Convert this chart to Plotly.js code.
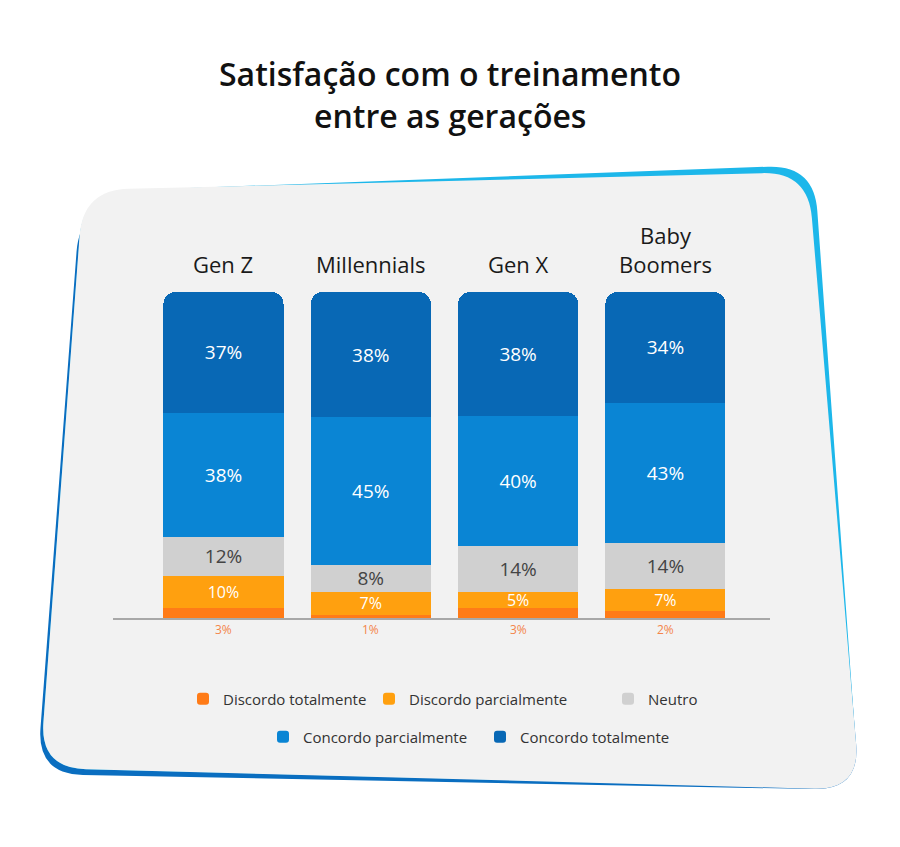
<!DOCTYPE html>
<html>
<head>
<meta charset="utf-8">
<script src="https://cdn.plot.ly/plotly-3.0.1.min.js"></script>
<style>html,body{margin:0;padding:0;background:#fff;}#chart{width:900px;height:847px;}</style>
</head>
<body>
<div id="chart"></div>
<script>
const categories = ['Gen Z', 'Millennials', 'Gen X', 'Baby Boomers'];
const categoryLabels = ['Gen Z', 'Millennials', 'Gen X', 'Baby<br>Boomers'];
const discordoTotalmente = [3, 1, 3, 2];
const discordoParcialmente = [10, 7, 5, 7];
const neutro = [12, 8, 14, 14];
const concordoParcialmente = [38, 45, 40, 43];
const concordoTotalmente = [37, 38, 38, 34];
const seriesNames = ['Discordo totalmente', 'Discordo parcialmente', 'Neutro', 'Concordo parcialmente', 'Concordo totalmente'];
const titleLines = ['Satisfação com o treinamento', 'entre as gerações'];

const W = 900, H = 847;
const M = {l: 113, r: 130, t: 292, b: 229};
const PW = W - M.l - M.r, PH = H - M.t - M.b;
const px2x = p => (p - M.l) / PW;
const px2y = p => (H - M.b - p) / PH;

function roundedPath(pts, r) {
  const n = pts.length;
  let d = '';
  const f = (x, y) => px2x(x).toFixed(5) + ',' + px2y(y).toFixed(5);
  for (let i = 0; i < n; i++) {
    const P = pts[i], A0 = pts[(i - 1 + n) % n], B0 = pts[(i + 1) % n];
    const ua = [A0[0] - P[0], A0[1] - P[1]], la = Math.hypot(ua[0], ua[1]);
    const ub = [B0[0] - P[0], B0[1] - P[1]], lb = Math.hypot(ub[0], ub[1]);
    const A = [P[0] + ua[0] / la * r, P[1] + ua[1] / la * r];
    const B = [P[0] + ub[0] / lb * r, P[1] + ub[1] / lb * r];
    d += (i === 0 ? 'M' : 'L') + f(A[0], A[1]) + ' Q' + f(P[0], P[1]) + ' ' + f(B[0], B[1]) + ' ';
  }
  return d + 'Z';
}

const card = [[83, 190], [808, 172], [860, 790], [40, 768]];
const cyanCard = [[83, 192], [814, 165], [859, 789], [40, 768]];
const blueCard = [[80, 206], [808, 172], [860, 790], [37, 774]];

const font = '"Open Sans", Lato, sans-serif';
const colors = ['#ff7b17', '#ffa00f', '#d0d0d0', '#0a85d4', '#0868b5'];
const textColors = ['#ffffff', '#ffffff', '#444444', '#ffffff', '#ffffff'];
const textSizes = [12, 16, 19, 19, 19];
const allSeries = [discordoTotalmente, discordoParcialmente, neutro, concordoParcialmente, concordoTotalmente];

const legendPos = [[203, 699], [389, 699], [628, 699], [283, 737], [500, 737]];

const traces = allSeries.map((vals, i) => ({
  type: 'bar',
  name: seriesNames[i],
  x: categories,
  y: vals,
  text: i === 0 ? vals.map(() => '') : vals.map(v => v + '%'),
  texttemplate: '%{text}',
  textposition: 'inside',
  insidetextanchor: 'middle',
  textangle: 0,
  constraintext: 'none',
  textfont: {family: font, size: textSizes[i], color: textColors[i]},
  marker: {color: colors[i], line: {width: 0}},
  hoverinfo: 'none',
  legend: i === 0 ? 'legend' : 'legend' + (i + 1)
}));

const legends = {};
legendPos.forEach((p, i) => {
  legends[i === 0 ? 'legend' : 'legend' + (i + 1)] = {
    xref: 'container', yref: 'container',
    x: (p[0] - 20) / W, y: 1 - p[1] / H,
    xanchor: 'left', yanchor: 'middle',
    orientation: 'h',
    bgcolor: 'rgba(0,0,0,0)', borderwidth: 0,
    font: {family: font, size: 15, color: '#333333'},
    itemclick: false, itemdoubleclick: false
  };
});

const annotations = [];
categories.forEach((c, i) => {
  annotations.push({
    x: c, y: 100, xref: 'x', yref: 'y',
    text: categoryLabels[i], showarrow: false,
    yanchor: 'bottom', yshift: 11,
    font: {family: font, size: 22, color: '#1a1a1a'}
  });
  annotations.push({
    x: c, y: 0, xref: 'x', yref: 'y',
    text: discordoTotalmente[i] + '%', showarrow: false,
    yanchor: 'top', yshift: -1,
    font: {family: font, size: 12, color: '#f4854a'}
  });
});
annotations.push({
  xref: 'paper', yref: 'paper', x: px2x(450), y: px2y(115),
  xanchor: 'center', yanchor: 'middle', showarrow: false,
  text: titleLines[1],
  font: {family: font, size: 32, color: '#111111', weight: 600}
});

const layout = Object.assign({
  width: W, height: H,
  margin: M,
  paper_bgcolor: '#ffffff',
  plot_bgcolor: 'rgba(0,0,0,0)',
  showlegend: true,
  barmode: 'stack',
  barnorm: 'percent',
  bargap: 0.185,
  barcornerradius: 12,
  title: {
    text: titleLines[0],
    x: 0.5, xanchor: 'center', xref: 'container',
    y: 1 - 75 / H, yanchor: 'middle', yref: 'container',
    font: {family: font, size: 32, color: '#111111', weight: 600}
  },
  xaxis: {
    type: 'category', range: [-0.75, 3.71], fixedrange: true,
    showticklabels: false, ticks: '', showgrid: false, zeroline: false,
    showline: true, linecolor: '#a8a8a8', linewidth: 1.5
  },
  yaxis: {
    range: [0, 100], fixedrange: true, visible: false, showgrid: false, zeroline: false
  },
  annotations: annotations,
  shapes: [
    {type: 'path', xref: 'paper', yref: 'paper', layer: 'below', path: roundedPath(blueCard, 46), fillcolor: '#0a6ec0', line: {width: 0}},
    {type: 'path', xref: 'paper', yref: 'paper', layer: 'below', path: roundedPath(cyanCard, 46), fillcolor: '#1db7ea', line: {width: 0}},
    {type: 'path', xref: 'paper', yref: 'paper', layer: 'below', path: roundedPath(card, 46), fillcolor: '#f2f2f2', line: {width: 0}}
  ]
}, legends);

Plotly.newPlot('chart', traces, layout, {displayModeBar: false, responsive: false});
</script>
</body>
</html>
